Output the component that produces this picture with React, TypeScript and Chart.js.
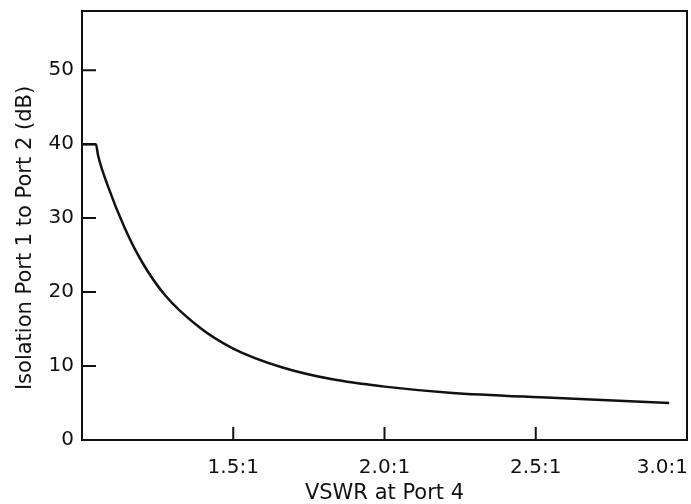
import React, { useEffect, useRef } from "react";
import { Chart, registerables } from "chart.js";

Chart.register(...registerables);

const vswr = [1.0, 1.046, 1.053, 1.086, 1.142, 1.198, 1.274, 1.389, 1.498, 1.663, 1.828, 1.993, 2.215, 2.554, 2.941];
const isolation = [40, 40, 38.5, 34.3, 28.6, 24.1, 19.6, 15.2, 12.4, 9.8, 8.2, 7.25, 6.4, 5.7, 5.0];
const xTicks = [1.5, 2.0, 2.5, 3.0];
const xTickLabels = ["1.5:1", "2.0:1", "2.5:1", "3.0:1"];
const yTicks = [0, 10, 20, 30, 40, 50];
const xTitle = "VSWR at Port 4";
const yTitle = "Isolation Port 1 to Port 2 (dB)";

const FONT = "'DejaVu Sans', sans-serif";
const INK = "#111";

const framePlugin = {
  id: "frame",
  afterDraw(chart: any) {
    const { ctx, chartArea } = chart;
    const { left, right, top, bottom } = chartArea;
    const xs = chart.scales.x;
    const ys = chart.scales.y;
    ctx.save();
    ctx.strokeStyle = INK;
    ctx.lineWidth = 2;
    ctx.strokeRect(left, top, right - left, bottom - top);
    ctx.beginPath();
    yTicks.forEach((v) => {
      if (v === 0) return;
      const py = ys.getPixelForValue(v);
      ctx.moveTo(left, py);
      ctx.lineTo(left + 14, py);
    });
    xTicks.forEach((v) => {
      if (v >= 3) return;
      const px = xs.getPixelForValue(v);
      ctx.moveTo(px, bottom);
      ctx.lineTo(px, bottom - 13);
    });
    ctx.stroke();
    ctx.fillStyle = INK;
    ctx.font = `20px ${FONT}`;
    ctx.textBaseline = "alphabetic";
    ctx.textAlign = "left";
    xTicks.forEach((v, i) => {
      const px = xs.getPixelForValue(v);
      const w = ctx.measureText(xTickLabels[i]).width;
      let x = px - w / 2;
      if (x + w > right + 1) x = right + 1 - w;
      ctx.fillText(xTickLabels[i], x, bottom + 33);
    });
    ctx.font = `21px ${FONT}`;
    ctx.textAlign = "center";
    ctx.fillText(xTitle, (left + right) / 2, bottom + 59);
    ctx.translate(31, 238);
    ctx.rotate(-Math.PI / 2);
    ctx.fillText(yTitle, 0, 0);
    ctx.restore();
  },
};

export default function App() {
  const ref = useRef<HTMLCanvasElement | null>(null);
  useEffect(() => {
    if (!ref.current) return;
    const chart = new Chart(ref.current, {
      type: "line",
      data: {
        datasets: [
          {
            data: vswr.map((x, i) => ({ x, y: isolation[i] })),
            borderColor: INK,
            borderWidth: 2.5,
            pointRadius: 0,
            cubicInterpolationMode: "monotone",
            fill: false,
          },
        ],
      },
      options: {
        animation: false,
        responsive: true,
        maintainAspectRatio: false,
        layout: { autoPadding: false, padding: { top: 11, right: 4, left: 0, bottom: 0 } },
        plugins: { legend: { display: false }, tooltip: { enabled: false } },
        scales: {
          x: {
            type: "linear",
            min: 1,
            max: 3,
            afterBuildTicks: (s: any) => {
              s.ticks = xTicks.map((value) => ({ value }));
            },
            afterFit: (s: any) => {
              s.height = 64;
              s.paddingLeft = 0;
              s.paddingRight = 0;
            },
            grid: { display: false },
            border: { display: false },
            ticks: { display: false },
            title: { display: false },
          },
          y: {
            type: "linear",
            min: 0,
            max: 58,
            afterBuildTicks: (s: any) => {
              s.ticks = yTicks.map((value) => ({ value }));
            },
            afterFit: (s: any) => {
              s.width = 82;
              s.paddingTop = 0;
              s.paddingBottom = 0;
            },
            grid: { display: false, drawTicks: false },
            border: { display: false },
            ticks: {
              color: INK,
              font: { family: FONT, size: 20 },
              padding: 8,
            },
            title: { display: false },
          },
        },
      },
      plugins: [framePlugin],
    });
    return () => chart.destroy();
  }, []);
  return (
    <div style={{ position: "absolute", left: 0, top: 0, width: 691, height: 504, background: "#fff" }}>
      <canvas ref={ref} />
    </div>
  );
}
